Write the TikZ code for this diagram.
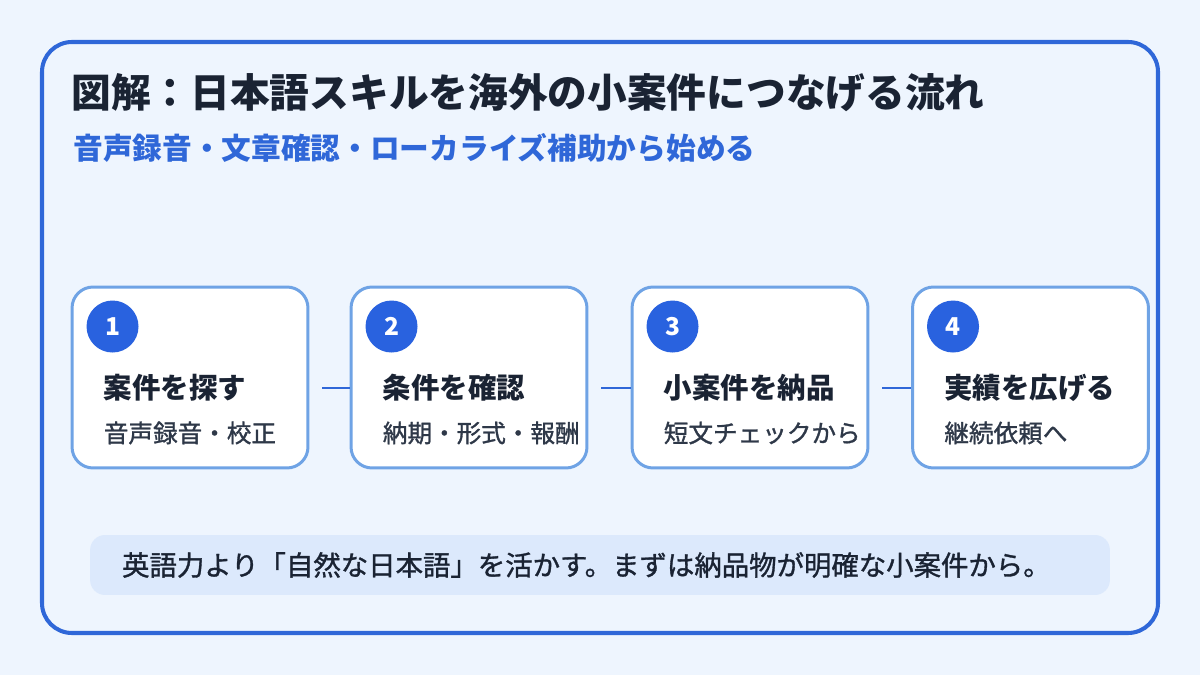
\documentclass[tikz,border=0pt]{standalone}
\usepackage{fontspec}
\setmainfont{Noto Sans CJK JP}
\newfontfamily\jpmedium{Noto Sans CJK JP}[RawFeature={embolden=1.2}]
\usetikzlibrary{positioning}
\definecolor{pageblue}{HTML}{EEF5FE}
\definecolor{frameblue}{HTML}{2F67D8}
\definecolor{cardedge}{HTML}{6FA3E5}
\definecolor{badgeblue}{HTML}{2962DF}
\definecolor{notefill}{HTML}{DCE9FC}
\definecolor{ink}{HTML}{1A2333}
\definecolor{inkgray}{HTML}{2E3848}
\tikzset{
      frame/.style    = { draw=frameblue, line width=2.3pt, rounded corners=0.6cm, fill=pageblue },
      card/.style     = { draw=cardedge, line width=1.7pt, fill=white, rounded corners=0.42cm,
                          minimum width=4.72cm, minimum height=3.62cm },
      badge/.style    = { circle, fill=badgeblue, text=white, minimum size=1.04cm, inner sep=0pt,
                          font=\bfseries\fontsize{14}{14}\selectfont },
      title/.style    = { text=ink, inner sep=0pt, font=\bfseries\fontsize{22.6}{26}\selectfont },
      subtitle/.style = { text=frameblue, inner sep=0pt, font=\bfseries\fontsize{16.9}{20}\selectfont },
      head/.style     = { text=ink, inner sep=0pt, font=\bfseries\fontsize{16.2}{19}\selectfont },
      detail/.style   = { text=inkgray, inner sep=0pt, font=\jpmedium\fontsize{14}{17}\selectfont },
      connect/.style  = { draw=frameblue, line width=1.2pt },
      note/.style     = { fill=notefill, rounded corners=0.3cm, minimum width=20.4cm, minimum height=1.2cm,
                          text width=19.12cm, align=left, text=ink, font=\jpmedium\fontsize{15.6}{18}\selectfont }
    }
\begin{document}
\begin{tikzpicture}[x=0.02cm, y=-0.02cm]
      \useasboundingbox (0,0) rectangle (1200,675);
      \fill[pageblue] (0,0) rectangle (1200,675);

      % Draw frame and headings
      \draw[frame] (42,42) rectangle (1158,633);
      \node[title, anchor=west] (title) at (71,93) {図解：日本語スキルを海外の小案件につなげる流れ};
      \node[subtitle, anchor=west] (subtitle) at (73,148) {音声録音・文章確認・ローカライズ補助から始める};

      % Draw all steps
      \foreach \i/\x/\head/\sub in {1/190/案件を探す/音声録音・校正,
                                    2/469/条件を確認/納期・形式・報酬,
                                    3/750/小案件を納品/短文チェックから,
                                    4/1030.5/実績を広げる/継続依頼へ} {
        \node[card] (b\i) at (\x,377.5) {};
        \node[badge] (n\i) at ([xshift=0.84cm, yshift=-0.82cm]b\i.north west) {\i};
        \node[head, anchor=west] (t\i) at ([xshift=0.66cm, yshift=-0.21cm]b\i.west) {\head};
        \node[detail, anchor=west] (d\i) at ([xshift=0.66cm, yshift=-1.11cm]b\i.west) {\sub};
      }
      \foreach \i/\j in {1/2, 2/3, 3/4} {
        \draw[connect] ([xshift=0.26cm]b\i.east |- t\i.west) -- (b\j.west |- t\i.west);
      }

      % Draw note
      \node[note] (tip) at (600,565) {英語力より「自然な日本語」を活かす。まずは納品物が明確な小案件から。};
    \end{tikzpicture}
\end{document}
